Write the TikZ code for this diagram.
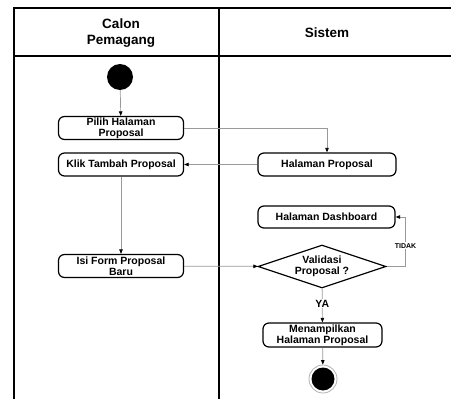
\documentclass[tikz,border=0pt]{standalone}
\usepackage{fontspec}
\setmainfont{Liberation Sans}
\usetikzlibrary{positioning, arrows.meta, shapes.geometric}

\begin{document}
\begin{tikzpicture}[
    x=1pt, y=-1pt,
    lane/.style={line width=2.6pt, line cap=rect},
    act/.style={rectangle, draw, line width=1.2pt, rounded corners=6pt, minimum height=23pt, minimum width=125pt, inner sep=1pt, align=center, font=\fontsize{10.5}{11}\selectfont\bfseries},
    dec/.style={diamond, draw, line width=1.2pt, aspect=3, minimum width=128pt, minimum height=43pt, inner sep=0pt, align=center, font=\fontsize{10.5}{11}\selectfont\bfseries},
    hdr/.style={align=center, font=\fontsize{13.5}{15.5}\selectfont\bfseries},
    guard/.style={fill=white, inner sep=1pt},
    arr/.style={-{Triangle[length=4.5pt, width=3.5pt, color=black]}, draw=gray!80, line width=0.7pt}
]
\useasboundingbox (0,0) rectangle (451,399);

% swimlanes
\draw[lane] (451,8) -- (14,8) -- (14,400);
\draw[lane] (14,56) -- (451,56);
\draw[lane] (219,8) -- (219,400);
\node[hdr] (laneA) at (121,33) {Calon\\Pemagang};
\node[hdr] (laneB) at (327,33) {Sistem};

% activities
\node[circle, fill=black, minimum size=26pt, inner sep=0pt] (start) at (120,77) {};
\node[act] (pilih) at (121,128) {Pilih Halaman\\Proposal};
\node[act] (klik) at (121,164.5) {Klik Tambah Proposal};
\node[act, minimum width=138pt] (halprop) at (327,164.5) {Halaman Proposal};
\node[act] (isi) at (121,266) {Isi Form Proposal\\Baru};
\node[act, minimum width=137pt, minimum height=22pt] (dash) at (326.5,217) {Halaman Dashboard};
\node[dec] (valid) at (322,266.5) {Validasi\\Proposal ?};
\node[act, minimum width=119pt, minimum height=24pt] (tampil) at (322.5,335) {Menampilkan\\Halaman Proposal};
\node[circle, draw=gray!60, line width=0.8pt, minimum size=28pt, inner sep=0pt,
      path picture={\fill[black] (path picture bounding box.center) circle (11.5pt);}] (stop) at (323,379) {};

\draw[arr] (start) -- (pilih);
\draw[arr] (pilih.east) -| (halprop.north);
\draw[arr] (halprop) -- (klik);
\draw[arr] (klik) -- (isi);
\draw[arr] (isi) -- (valid);
\draw[arr] (valid.east) -- ++(19,0) |- node[pos=0.21, guard, font=\fontsize{7}{8}\selectfont\bfseries] {TIDAK} (dash.east);
\draw[arr] (valid) -- node[pos=0.45, guard, font=\fontsize{10.5}{11}\selectfont\bfseries] {YA} (tampil);
\draw[arr] (tampil) -- (stop);

\end{tikzpicture}
\end{document}
